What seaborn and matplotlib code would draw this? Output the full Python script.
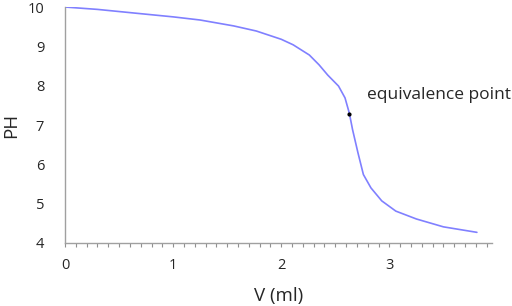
import matplotlib
matplotlib.use("Agg")
import matplotlib.pyplot as plt
import seaborn as sns
import pandas as pd
from matplotlib.ticker import MultipleLocator

# Titration curve values
volume = [0.0, 0.3, 0.63, 1.0, 1.25, 1.56, 1.77, 2.0, 2.11, 2.26, 2.35, 2.43, 2.53,
          2.59, 2.63, 2.66, 2.71, 2.76, 2.83, 2.93, 3.06, 3.25, 3.50, 3.81]
ph = [10.0, 9.94, 9.85, 9.75, 9.67, 9.52, 9.39, 9.18, 9.04, 8.78, 8.53, 8.27, 7.99,
      7.69, 7.30, 6.88, 6.29, 5.74, 5.40, 5.07, 4.81, 4.61, 4.41, 4.27]
eq_volume = [2.63]
eq_ph = [7.29]
eq_label = "equivalence point"

df = pd.DataFrame({"V": volume, "PH": ph})

sns.set_style("white")
plt.rcParams['font.family'] = ['Open Sans', 'DejaVu Sans']

fig = plt.figure(figsize=(5.12, 3.06), dpi=100)
ax = fig.add_axes([0.127, 0.206, 0.834, 0.771])

sns.lineplot(data=df, x="V", y="PH", color="#8080ff", linewidth=1.2, ax=ax)
ax.scatter(eq_volume, eq_ph, s=4, color="black", zorder=3)
ax.text(eq_volume[0] + 0.16, eq_ph[0] + 0.48, eq_label, fontsize=12.5, va="center")

ax.set_xlim(0, 3.95)
ax.set_ylim(4, 10)
ax.xaxis.set_major_locator(MultipleLocator(1))
ax.xaxis.set_minor_locator(MultipleLocator(0.1))
ax.yaxis.set_major_locator(MultipleLocator(1))

for side in ["top", "right"]:
    ax.spines[side].set_visible(False)
for side in ["left", "bottom"]:
    ax.spines[side].set_color("#a0a0a0")
    ax.spines[side].set_linewidth(1.0)

ax.tick_params(axis="x", which="both", direction="out", length=3, width=0.8,
               color="#909090", labelsize=10.5, pad=8, bottom=True)
ax.tick_params(axis="y", which="both", length=0, labelsize=10.5, pad=15)

ax.set_xlabel("V (ml)", fontsize=13.5, labelpad=10)
ax.set_ylabel("PH", fontsize=13.5)
ax.yaxis.set_label_coords(-0.105, 0.5)

fig.savefig("out.png", dpi=100)
